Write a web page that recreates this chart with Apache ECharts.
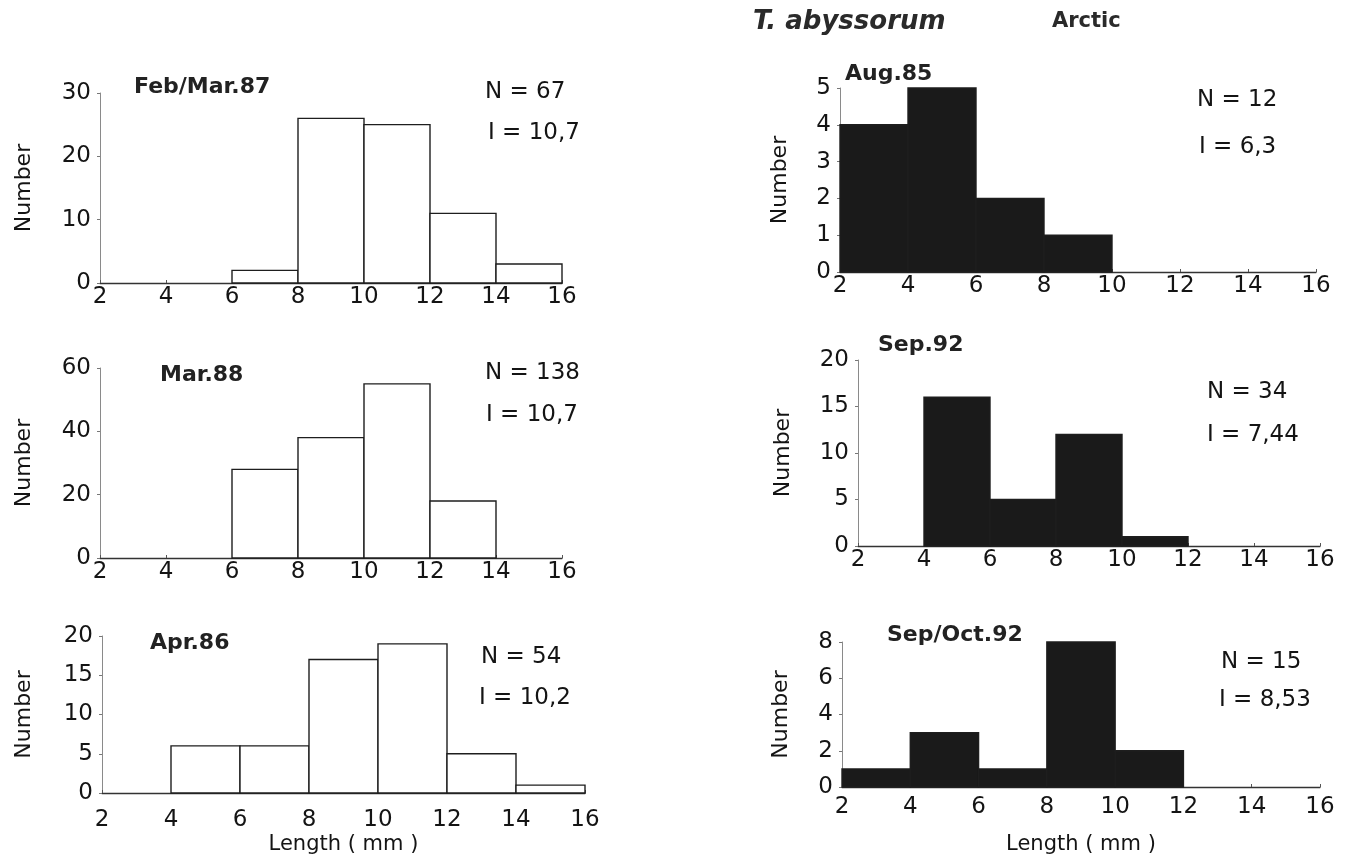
<!DOCTYPE html>
<html>
<head>
<meta charset="utf-8">
<script src="https://cdn.jsdelivr.net/npm/echarts@6/dist/echarts.min.js"></script>
<style>
  html, body { margin: 0; padding: 0; background: #ffffff; }
  #chart { width: 1348px; height: 862px; }
</style>
</head>
<body>
<div id="chart"></div>
<script>
// Length classes (mm): tick labels and left edges of the 2 mm bins
const lengthTicks = [2, 4, 6, 8, 10, 12, 14, 16];
const binStarts = [2, 4, 6, 8, 10, 12, 14];
const binWidth = 2;

// Counts per length class, one array per sample
const febMar87 = [0, 0, 2, 26, 25, 11, 3];
const mar88    = [0, 0, 28, 38, 55, 18, 0];
const apr86    = [0, 6, 6, 17, 19, 5, 1];
const aug85    = [4, 5, 2, 1, 0, 0, 0];
const sep92    = [0, 16, 5, 12, 1, 0, 0];
const sepOct92 = [1, 3, 1, 8, 2, 0, 0];

// Sample labels, sample sizes and mean lengths
const sampleNames = ['Feb/Mar.87', 'Mar.88', 'Apr.86', 'Aug.85', 'Sep.92', 'Sep/Oct.92'];
const sampleN     = ['67', '138', '54', '12', '34', '15'];
const sampleMean  = ['10,7', '10,7', '10,2', '6,3', '7,44', '8,53'];
const yMaxes      = [30, 60, 20, 5, 20, 8];
const yIntervals  = [10, 20, 5, 1, 5, 2];

const counts = [febMar87, mar88, apr86, aug85, sep92, sepOct92];

// Panel layout: plot rectangle, label spacing, text anchors
const panels = [
  { left: 100, top: 93,  width: 462, height: 190, fill: '#ffffff', xMargin: 3,  yGap: 65, xName: false,
    title: [134, 87], nPos: [485, 92],  iPos: [488, 133] },
  { left: 100, top: 368, width: 462, height: 190, fill: '#ffffff', xMargin: 3,  yGap: 65, xName: false,
    title: [160, 375], nPos: [485, 373], iPos: [486, 415] },
  { left: 102, top: 636, width: 483, height: 157, fill: '#ffffff', xMargin: 16, yGap: 67, xName: true, xGap: 41,
    title: [150, 643], nPos: [481, 657], iPos: [479, 698] },
  { left: 840, top: 88,  width: 476, height: 184, fill: '#1a1a1a', xMargin: 3,  yGap: 49, xName: false,
    title: [845, 74], nPos: [1197, 100], iPos: [1199, 147] },
  { left: 858, top: 360, width: 462, height: 186, fill: '#1a1a1a', xMargin: 3,  yGap: 64, xName: false,
    title: [878, 345], nPos: [1207, 392], iPos: [1207, 435] },
  { left: 842, top: 642, width: 478, height: 145, fill: '#1a1a1a', xMargin: 9,  yGap: 50, xName: true, xGap: 47,
    title: [887, 635], nPos: [1221, 662], iPos: [1219, 700] }
];

const FONT = '"DejaVu Sans", "Liberation Sans", sans-serif';
const INK = '#141414';

const grids = [], xAxes = [], yAxes = [], series = [], texts = [];

panels.forEach(function (p, i) {
  grids.push({ left: p.left, top: p.top, width: p.width, height: p.height, containLabel: false });

  xAxes.push({
    gridIndex: i, type: 'value', min: lengthTicks[0], max: lengthTicks[lengthTicks.length - 1], interval: binWidth,
    splitLine: { show: false },
    axisLine: { show: true, lineStyle: { color: '#333333', width: 1.3 } },
    axisTick: { show: true, length: 3, inside: true, lineStyle: { color: '#555555' } },
    axisLabel: { color: INK, fontFamily: FONT, fontSize: 23, margin: p.xMargin, showMinLabel: true, showMaxLabel: true },
    name: p.xName ? 'Length ( mm )' : '',
    nameLocation: 'middle', nameGap: p.xGap || 0,
    nameTextStyle: { color: INK, fontFamily: FONT, fontSize: 21 }
  });

  yAxes.push({
    gridIndex: i, type: 'value', min: 0, max: yMaxes[i], interval: yIntervals[i],
    splitLine: { show: false },
    axisLine: { show: true, lineStyle: { color: '#8a8a8a', width: 1 } },
    axisTick: { show: true, length: 3, lineStyle: { color: '#777777' } },
    axisLabel: { color: INK, fontFamily: FONT, fontSize: 23, margin: 9 },
    name: 'Number', nameLocation: 'middle', nameRotate: 90, nameGap: p.yGap,
    nameTextStyle: { color: INK, fontFamily: FONT, fontSize: 22 }
  });

  const bins = [];
  counts[i].forEach(function (c, k) {
    if (c > 0) bins.push([binStarts[k], binStarts[k] + binWidth, c]);
  });

  series.push({
    type: 'custom', xAxisIndex: i, yAxisIndex: i, data: bins, z: 3,
    encode: { x: [0, 1], y: 2 },
    renderItem: function (params, api) {
      const topLeft = api.coord([api.value(0), api.value(2)]);
      const bottomRight = api.coord([api.value(1), 0]);
      return {
        type: 'rect',
        shape: { x: topLeft[0], y: topLeft[1], width: bottomRight[0] - topLeft[0], height: bottomRight[1] - topLeft[1] },
        style: { fill: p.fill, stroke: '#1e1e1e', lineWidth: 1.4 }
      };
    }
  });

  texts.push({ type: 'text', x: p.title[0], y: p.title[1],
    style: { text: sampleNames[i], font: 'bold 22px ' + FONT, fill: '#222222', verticalAlign: 'middle' } });
  texts.push({ type: 'text', x: p.nPos[0], y: p.nPos[1],
    style: { text: 'N = ' + sampleN[i], font: '23px ' + FONT, fill: INK, verticalAlign: 'middle' } });
  texts.push({ type: 'text', x: p.iPos[0], y: p.iPos[1],
    style: { text: 'I = ' + sampleMean[i], font: '23px ' + FONT, fill: INK, verticalAlign: 'middle' } });
});

texts.push({ type: 'text', x: 753, y: 22,
  style: { text: 'T. abyssorum', font: 'italic bold 26px ' + FONT, fill: '#2a2a2a', verticalAlign: 'middle' } });
texts.push({ type: 'text', x: 1052, y: 22,
  style: { text: 'Arctic', font: 'bold 21px ' + FONT, fill: '#2a2a2a', verticalAlign: 'middle' } });

const chart = echarts.init(document.getElementById('chart'), null, { renderer: 'canvas' });
chart.setOption({
  backgroundColor: '#ffffff',
  animation: false,
  grid: grids,
  xAxis: xAxes,
  yAxis: yAxes,
  series: series,
  graphic: texts
});
</script>
</body>
</html>
